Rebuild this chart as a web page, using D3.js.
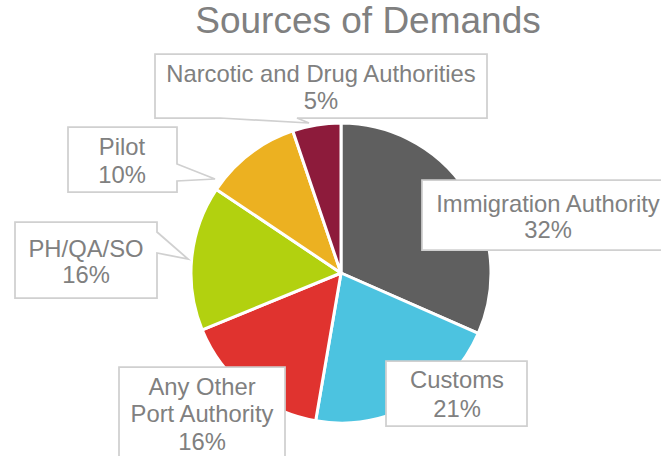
<!DOCTYPE html>
<html>
<head>
<meta charset="utf-8">
<script src="https://cdn.jsdelivr.net/npm/d3@7"></script>
<style>
  html, body { margin: 0; padding: 0; background: #fff; }
  svg { display: block; }
  text { font-family: "Liberation Sans", Arial, Helvetica, sans-serif; fill: #808080; }
</style>
</head>
<body>
<svg id="chart" width="661" height="456"></svg>
<script>
// ---- data ----
const title = "Sources of Demands";
const categories = ["Immigration Authority", "Customs", "Any Other Port Authority", "PH/QA/SO", "Pilot", "Narcotic and Drug Authorities"];
const values = [31.6, 21.1, 16.1, 15.6, 10.4, 5.2];
const colors = ["#5f5f5f", "#4cc3e0", "#e0332f", "#b2d10f", "#ecb121", "#8d1b3b"];

// ---- layout ----
const W = 661, H = 456;
const cx = 341, cy = 273, R = 150;
const boxes = [
  { x: 422, y: 180, w: 252, h: 70, tx: 548, base: [212, 238], wrap: null },
  { x: 386, y: 361, w: 141, h: 65, tx: 457, base: [388, 417], wrap: null },
  { x: 119, y: 367, w: 166, h: 110, tx: 202, base: [395, 422, 450], wrap: 2 },
  { x: 15, y: 222, w: 142, h: 76, tx: 86, base: [257, 283], wrap: null,
    wedge: { side: "right", a: 232, b: 253, tip: [188, 259] } },
  { x: 68, y: 127, w: 109, h: 65, tx: 122, base: [155, 183], wrap: null,
    wedge: { side: "right", a: 164, b: 181, tip: [215, 179] } },
  { x: 155, y: 54, w: 332, h: 64, tx: 321, base: [82, 109], wrap: null,
    wedge: { side: "bottom", a: 297, b: 220, tip: [309, 123] } }
];

const svg = d3.select("#chart");
const total = d3.sum(values);

svg.append("text")
  .attr("x", 368).attr("y", 33)
  .attr("text-anchor", "middle")
  .style("font-size", "37px")
  .text(title);

const pie = d3.pie().sort(null).value(d => d);
const arc = d3.arc().innerRadius(0).outerRadius(R);

svg.append("g")
  .attr("transform", `translate(${cx},${cy})`)
  .selectAll("path")
  .data(pie(values))
  .join("path")
  .attr("d", arc)
  .attr("fill", (d, i) => colors[i])
  .attr("stroke", "#fff")
  .attr("stroke-width", 3)
  .attr("stroke-linejoin", "round");

function calloutPath(b) {
  const x0 = b.x, y0 = b.y, x1 = b.x + b.w, y1 = b.y + b.h;
  let pts;
  if (b.wedge && b.wedge.side === "right") {
    pts = [[x0, y0], [x1, y0], [x1, b.wedge.a], b.wedge.tip, [x1, b.wedge.b], [x1, y1], [x0, y1]];
  } else if (b.wedge && b.wedge.side === "bottom") {
    pts = [[x0, y0], [x1, y0], [x1, y1], [b.wedge.a, y1], b.wedge.tip, [b.wedge.b, y1], [x0, y1]];
  } else {
    pts = [[x0, y0], [x1, y0], [x1, y1], [x0, y1]];
  }
  return "M" + pts.map(p => p.join(",")).join("L") + "Z";
}

const g = svg.append("g");
categories.forEach((cat, i) => {
  const b = boxes[i];
  g.append("path")
    .attr("d", calloutPath(b))
    .attr("fill", "#fff")
    .attr("stroke", "#d0d0d0")
    .attr("stroke-width", 1.75);
  let lines;
  if (b.wrap) {
    const words = cat.split(" ");
    lines = [words.slice(0, b.wrap).join(" "), words.slice(b.wrap).join(" ")];
  } else {
    lines = [cat];
  }
  lines.push(Math.round(values[i] / total * 100) + "%");
  lines.forEach((t, j) => {
    g.append("text")
      .attr("x", b.tx).attr("y", b.base[j])
      .attr("text-anchor", "middle")
      .style("font-size", "23.8px")
      .text(t);
  });
});
</script>
</body>
</html>
